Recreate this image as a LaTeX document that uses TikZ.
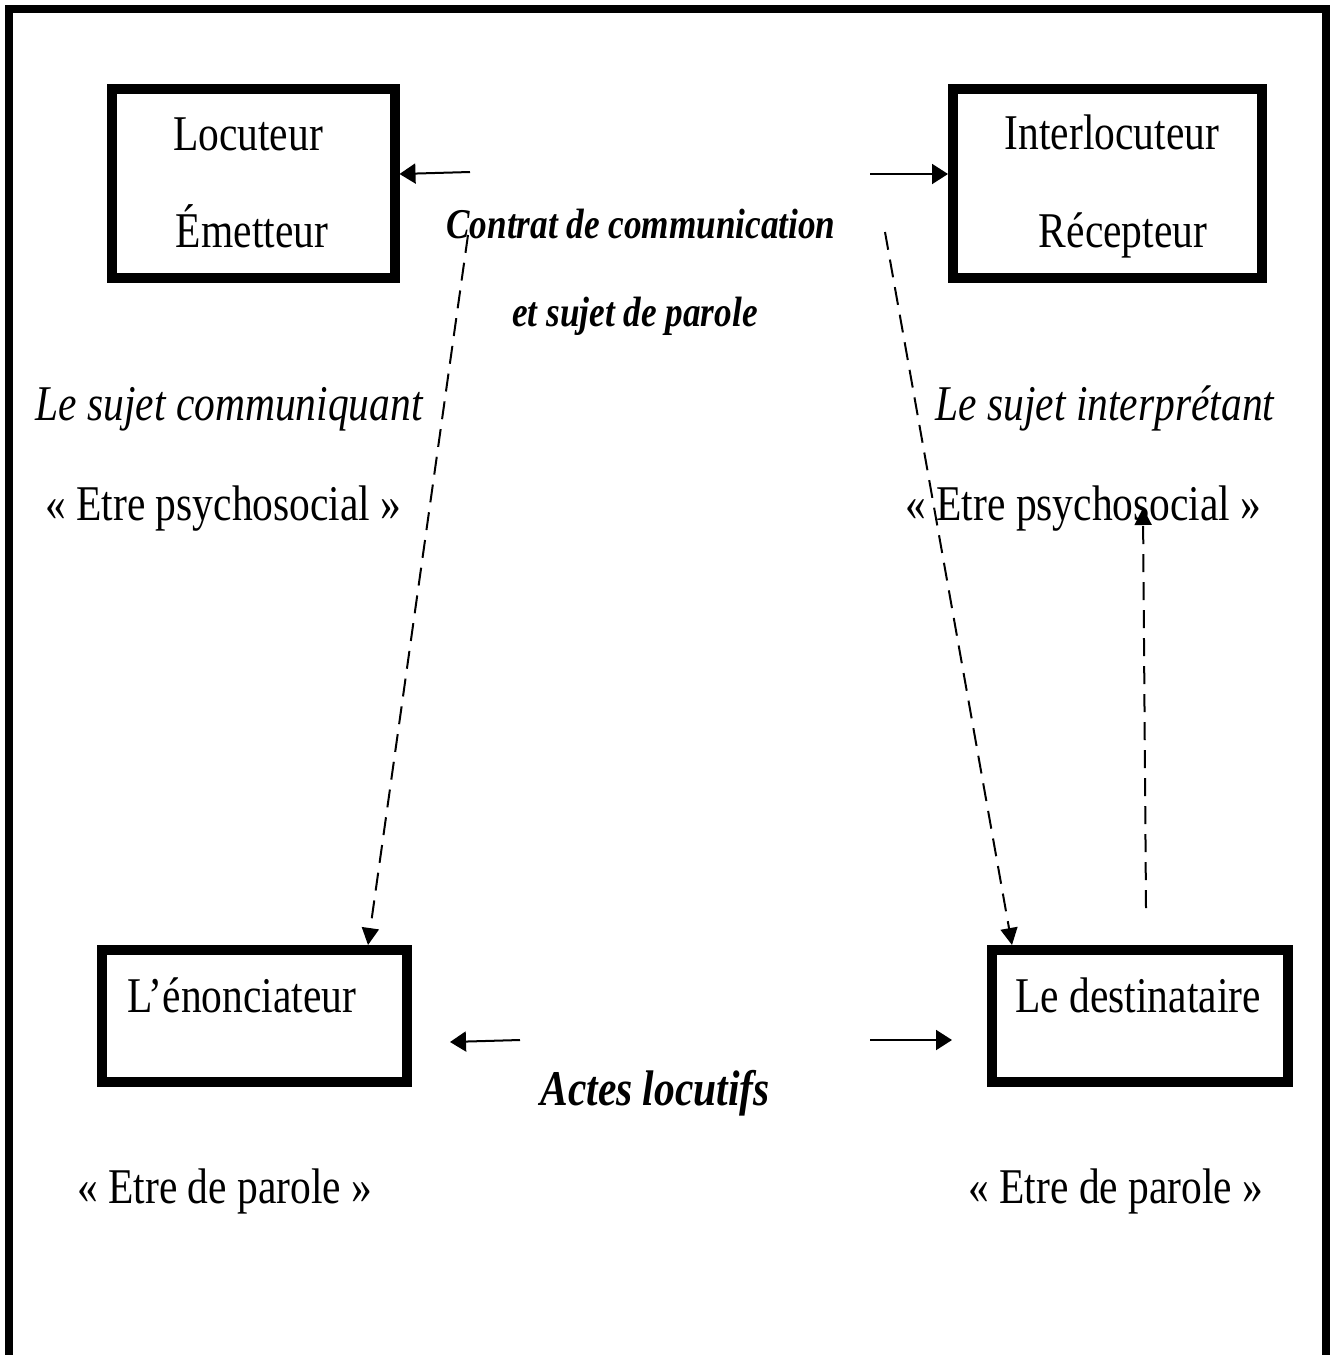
\documentclass[tikz,border=0pt]{standalone}
\usepackage{fontspec}
\setmainfont[FakeStretch=0.83]{Liberation Serif}
\usetikzlibrary{arrows.meta}
\tikzset{
  frame/.style={line width=4pt},
  bigbox/.style={draw, line width=5pt, inner sep=0pt},
  txt/.style={inner sep=0pt, anchor=base, font=\fontsize{25pt}{30pt}\selectfont},
  txtw/.style={txt, anchor=base west},
  itx/.style={txtw, font=\fontsize{25pt}{30pt}\selectfont\itshape},
  bix/.style={txt, font=\fontsize{21.2pt}{26pt}\selectfont\bfseries\itshape},
  arr/.style={line width=1pt, -{Triangle[length=8pt,width=10pt]}},
  darr/.style={line width=1pt, dash pattern=on 9pt off 5pt, -{Triangle[length=8.5pt,width=8.5pt]}}
}
\begin{document}
\begin{tikzpicture}[x=0.5pt,y=-0.5pt]
\useasboundingbox (0,0) rectangle (1333,1355);
\clip (0,0) rectangle (1333,1355);
\fill[white] (0,0) rectangle (1333,1355);
% outer frame (open at the bottom)
\draw[frame] (9,1420) -- (9,9) -- (1326,9) -- (1326,1420);

% boxes
\node[bigbox, minimum width=141.5pt, minimum height=94.5pt] (loc) at (253,183.5) {};
\node[bigbox, minimum width=154.5pt, minimum height=94.5pt] (int) at (1107.5,183.5) {};
\node[bigbox, minimum width=152.5pt, minimum height=66pt] (eno) at (254.5,1016) {};
\node[bigbox, minimum width=148pt, minimum height=66pt] (des) at (1140,1016) {};

% box texts
\node[txt] (tloc) at (248,150) {Locuteur};
\node[txt] (temi) at (252,247) {Émetteur};
\node[txt] (tint) at (1112,149) {Interlocuteur};
\node[txt] (trec) at (1123,247) {Récepteur};
\node[txtw] (teno) at (127,1012) {L’énonciateur};
\node[txtw] (tdes) at (1015,1012) {Le destinataire};

% middle texts
\node[bix] (contrat) at (641,238) {Contrat de communication};
\node[bix] (sujet) at (635,326) {et sujet de parole};
\node[txt, font=\fontsize{25pt}{30pt}\selectfont\bfseries\itshape, anchor=base west] (actes) at (540,1105) {Actes locutifs};

% side texts
\node[itx] (scom) at (35,420) {Le sujet communiquant};
\node[txtw] (psyl) at (45,520) {« Etre psychosocial »};
\node[itx] (sint) at (935,420) {Le sujet interprétant};
\node[txtw] (psyr) at (905,520) {« Etre psychosocial »};
\node[txtw] (parl) at (77,1203) {« Etre de parole »};
\node[txtw] (parr) at (968,1203) {« Etre de parole »};

% solid arrows
\coordinate (a1) at (470,172);
\coordinate (a1e) at (390,174);
\draw[arr] (a1) -- (a1e -| loc.east);
\coordinate (a2) at (870,174);
\draw[arr] (a2) -- (a2 -| int.west);
\coordinate (a3) at (520,1040);
\coordinate (a3e) at (450,1042);
\draw[arr] (a3) -- (a3e);
\coordinate (a4) at (870,1040);
\coordinate (a4e) at (952,1040);
\draw[arr] (a4) -- (a4e);

% dashed arrows
\coordinate (d1) at (468,235);
\coordinate (d1x) at (368,0);
\draw[darr] (d1) -- (d1x |- eno.north);
\coordinate (d2) at (885,232);
\coordinate (d2x) at (1012,0);
\draw[darr] (d2) -- (d2x |- des.north);
\coordinate (d3) at (1146,908);
\coordinate (d3e) at (1143,508);
\draw[darr] (d3) -- (d3e);
\end{tikzpicture}
\end{document}
